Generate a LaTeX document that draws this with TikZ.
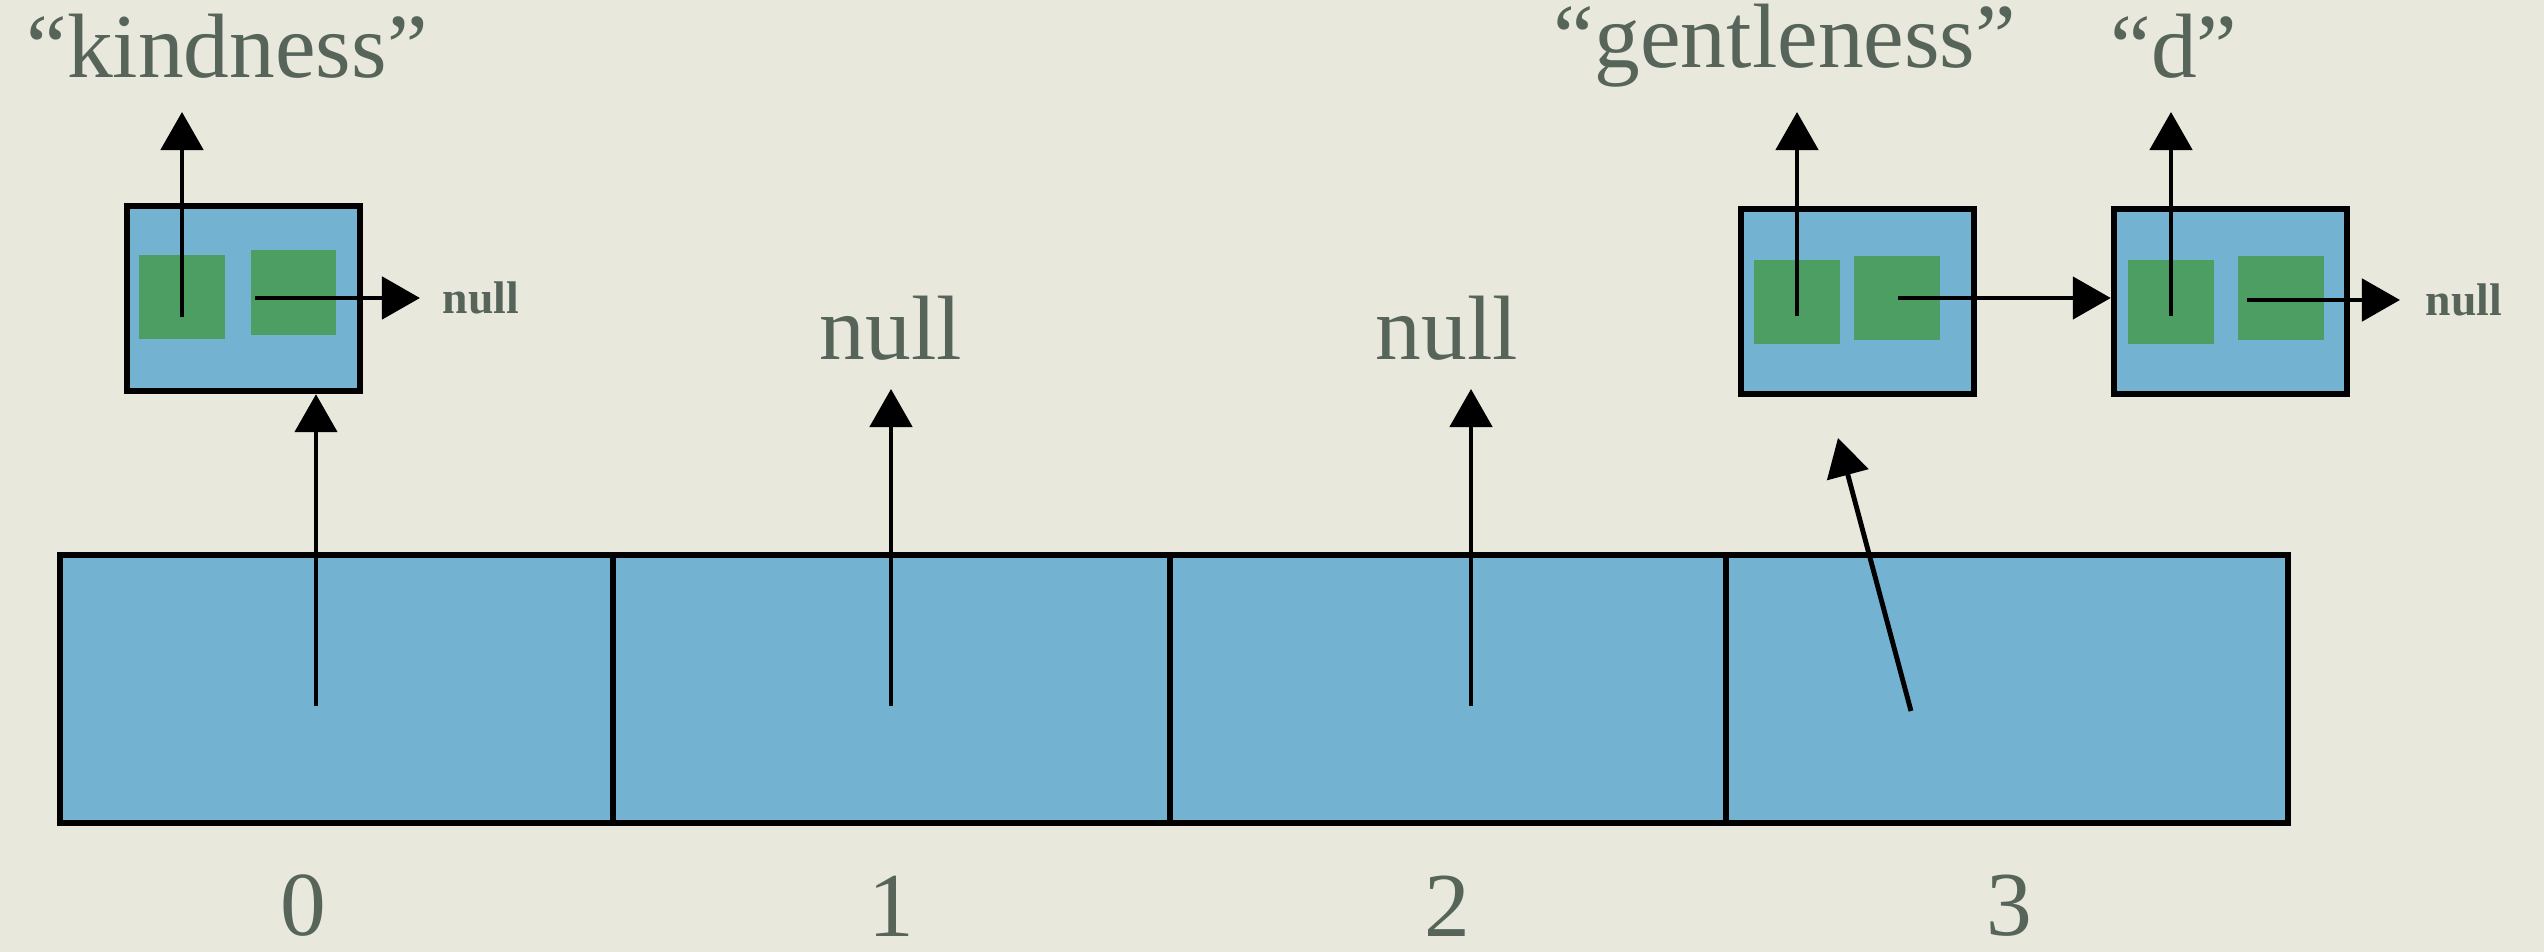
\documentclass[tikz,border=0pt]{standalone}
\usepackage{fontspec}
\setmainfont{Liberation Serif}
\usetikzlibrary{arrows.meta}
\definecolor{paper}{RGB}{232,232,220}
\definecolor{cellblue}{RGB}{116,178,209}
\definecolor{fieldgreen}{RGB}{76,158,98}
\definecolor{ink}{RGB}{86,100,90}
\tikzset{
  cell/.style={draw=black, line width=1.8pt, fill=cellblue, minimum height=2.68cm, inner sep=0pt, outer sep=0pt},
  listnode/.style={draw=black, line width=1.8pt, fill=cellblue, minimum width=2.33cm, minimum height=1.85cm, inner sep=0pt},
  field/.style={fill=fieldgreen, minimum width=0.85cm, minimum height=0.84cm, inner sep=0pt},
  ptr/.style={line width=1.4pt, -{Triangle[length=0.38cm,width=0.42cm]}},
  bigtext/.style={text=ink, font=\fontsize{26}{30}\selectfont, inner sep=0pt},
  smalltext/.style={text=ink, font=\fontsize{13}{15}\selectfont\bfseries, inner sep=0pt, anchor=west},
}
\begin{document}
\begin{tikzpicture}[x=0.01cm,y=-0.01cm]
  \fill[paper] (0,0) rectangle (2544,952);
  \useasboundingbox (0,0) rectangle (2544,952);

  % hash table buckets
  \node[cell, minimum width=5.53cm] (c0) at (336.5,689) {};
  \node[cell, minimum width=5.57cm] (c1) at (891.5,689) {};
  \node[cell, minimum width=5.56cm] (c2) at (1448,689) {};
  \node[cell, minimum width=5.62cm] (c3) at (2007,689) {};

  % bucket indices
  \node[bigtext] (i0) at (303,906) {0};
  \node[bigtext] (i1) at (891,906) {1};
  \node[bigtext] (i2) at (1447,906) {2};
  \node[bigtext] (i3) at (2009,906) {3};

  % chain nodes
  \node[listnode] (n0) at (243.5,298.5) {};
  \node[field] (k0) at (182,297) {};
  \node[field] (p0) at (293.5,292.5) {};

  \node[listnode] (n1) at (1857.5,301.5) {};
  \node[field] (k1) at (1797,302) {};
  \node[field] (p1) at (1897,298) {};

  \node[listnode] (n2) at (2230.5,301.5) {};
  \node[field] (k2) at (2171,302) {};
  \node[field] (p2) at (2281,298) {};

  % keys
  \node[bigtext] (s0) at (227,46) {“kindness”};
  \node[bigtext] (s1) at (1785,46) {“gentleness”};
  \node[bigtext] (s2) at (2174,46) {“d”};

  % empty buckets and list ends
  \node[bigtext] (e1) at (891,328) {null};
  \node[bigtext] (e2) at (1447,328) {null};
  \node[smalltext] (z0) at (442,298) {null};
  \node[smalltext] (z2) at (2425,300) {null};

  % pointer sources and targets
  \coordinate (b0) at (316,706);
  \coordinate (b1) at (891,706);
  \coordinate (b2) at (1471,706);
  \coordinate (b3) at (1911,711);
  \coordinate (t3) at (1838,438);
  \coordinate (u0) at (182,112);
  \coordinate (u1) at (1797,112);
  \coordinate (u2) at (2171,112);

  % bucket pointers
  \draw[ptr] (b0) -- (n0.south -| b0);
  \draw[ptr] (b1) -- (891,389);
  \draw[ptr] (b2) -- (1471,389);
  \draw[ptr] (b3) -- (t3);

  % key pointers
  \draw[ptr] ([yshift=-0.2cm]k0.center) -- (u0);
  \draw[ptr] ([yshift=-0.14cm]k1.center) -- (u1);
  \draw[ptr] ([yshift=-0.14cm]k2.center) -- (u2);

  % next pointers
  \draw[ptr] ([xshift=-0.38cm]p0.center |- z0.west) -- ([xshift=-0.22cm]z0.west);
  \draw[ptr] ([xshift=0.01cm]p1.center) -- (n2.west |- p1.center);
  \draw[ptr] ([xshift=-0.34cm]p2.center |- z2.west) -- ([xshift=-0.25cm]z2.west);
\end{tikzpicture}
\end{document}
